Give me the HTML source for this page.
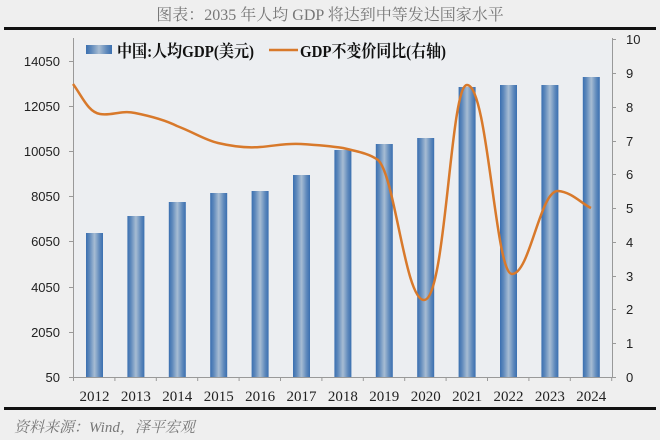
<!DOCTYPE html>
<html><head><meta charset="utf-8"><style>
body{margin:0;background:#efefef;}
svg{display:block;font-family:"Liberation Sans","Noto Sans CJK SC",sans-serif;}
</style></head><body>
<svg width="660" height="440" viewBox="0 0 660 440">
<defs>
<linearGradient id="bg" x1="0" x2="1" y1="0" y2="0">
<stop offset="0" stop-color="#3a6fb0"/><stop offset="0.2" stop-color="#5d88bb"/>
<stop offset="0.5" stop-color="#a7bcd3"/><stop offset="0.8" stop-color="#5d88bb"/>
<stop offset="1" stop-color="#3a6fb0"/></linearGradient>
</defs>
<rect width="660" height="440" fill="#efefef"/>
<rect x="73" y="40" width="540" height="337" fill="#eceef1"/>
<text x="330" y="20" text-anchor="middle" font-size="16" fill="#777" font-family="Liberation Serif,'Noto Serif CJK SC',serif">图表：2035 年人均 GDP 将达到中等发达国家水平</text>
<rect x="4" y="27" width="652" height="3" fill="#111"/>
<rect x="4" y="407" width="652" height="3" fill="#111"/>
<text x="14" y="432" font-size="15" fill="#777" font-style="italic" font-family="Liberation Serif,'Noto Serif CJK SC',serif">资料来源：Wind，泽平宏观</text>
<g stroke="#999" stroke-width="1">
<line x1="73.5" y1="38" x2="73.5" y2="377"/>
<line x1="612.5" y1="38" x2="612.5" y2="377"/>
<line x1="73" y1="377.5" x2="613" y2="377.5"/>
</g>
<g fill="#222" font-size="13" text-anchor="end">
<text x="60" y="66">14050</text><text x="60" y="111">12050</text><text x="60" y="156">10050</text>
<text x="60" y="201">8050</text><text x="60" y="246">6050</text><text x="60" y="292">4050</text>
<text x="60" y="337">2050</text><text x="60" y="382">50</text>
</g>
<g stroke="#999"><path d="M69 61.5h4M69 106.5h4M69 151.5h4M69 196.5h4M69 241.5h4M69 287.5h4M69 332.5h4M69 377.5h4"/>
<path d="M612 39.5h4M612 73.5h4M612 107.5h4M612 141.5h4M612 174.5h4M612 208.5h4M612 242.5h4M612 276.5h4M612 309.5h4M612 343.5h4M612 377.5h4"/>
<path d="M73.5 377v4M114.9 377v4M156.3 377v4M197.7 377v4M239.1 377v4M280.5 377v4M321.9 377v4M363.3 377v4M404.7 377v4M446.1 377v4M487.5 377v4M528.9 377v4M570.3 377v4M611.7 377v4"/></g>
<g fill="#222" font-size="13">
<text x="626" y="44">10</text><text x="626" y="78">9</text><text x="626" y="112">8</text><text x="626" y="146">7</text>
<text x="626" y="179">6</text><text x="626" y="213">5</text><text x="626" y="247">4</text><text x="626" y="281">3</text>
<text x="626" y="314">2</text><text x="626" y="348">1</text><text x="626" y="382">0</text>
</g>
<g fill="#222" font-size="15" text-anchor="middle" font-family="Liberation Serif,serif">
<text x="94.5" y="401">2012</text><text x="135.9" y="401">2013</text><text x="177.3" y="401">2014</text><text x="218.7" y="401">2015</text>
<text x="260.1" y="401">2016</text><text x="301.5" y="401">2017</text><text x="342.9" y="401">2018</text><text x="384.3" y="401">2019</text>
<text x="425.7" y="401">2020</text><text x="467.1" y="401">2021</text><text x="508.5" y="401">2022</text><text x="549.9" y="401">2023</text>
<text x="591.3" y="401">2024</text>
</g>
<g fill="url(#bg)">
<rect x="86" y="233" width="17" height="144"/>
<rect x="127.4" y="216" width="17" height="161"/>
<rect x="168.8" y="202" width="17" height="175"/>
<rect x="210.2" y="193" width="17" height="184"/>
<rect x="251.6" y="191" width="17" height="186"/>
<rect x="293" y="175" width="17" height="202"/>
<rect x="334.4" y="150" width="17" height="227"/>
<rect x="375.8" y="144" width="17" height="233"/>
<rect x="417.2" y="138" width="17" height="239"/>
<rect x="458.6" y="87" width="17" height="290"/>
<rect x="500" y="85" width="17" height="292"/>
<rect x="541.4" y="85" width="17" height="292"/>
<rect x="582.8" y="77" width="17" height="300"/>
</g>
<path d="M73 84 C82 96,88 112,100 114 C112 116,120 110,135 113 C150 116,165 120,177 126 C195 133,205 140,218 143 C235 147,248 148,260 147 C275 146,285 143,301 144 C318 145,330 146,343 148 C360 152,370 154,378 160 C395 175,405 300,424 300 C446 300,450 85,467 85 C488 85,495 274,512 274 C530 274,540 190,558 191 C572 192,582 204,591 208" fill="none" stroke="#d8792b" stroke-width="2.5"/>
<rect x="86" y="45" width="26" height="9" fill="url(#bg)"/>
<text x="117" y="57" font-size="17" font-weight="bold" fill="#111" font-family="Liberation Serif,'Noto Serif CJK SC',serif" textLength="137" lengthAdjust="spacingAndGlyphs">中国:人均GDP(美元)</text>
<line x1="269" y1="50" x2="298" y2="50" stroke="#d8792b" stroke-width="2.5"/>
<text x="300" y="57" font-size="17" font-weight="bold" fill="#111" font-family="Liberation Serif,'Noto Serif CJK SC',serif" textLength="146" lengthAdjust="spacingAndGlyphs">GDP不变价同比(右轴)</text>
</svg>
</body></html>
